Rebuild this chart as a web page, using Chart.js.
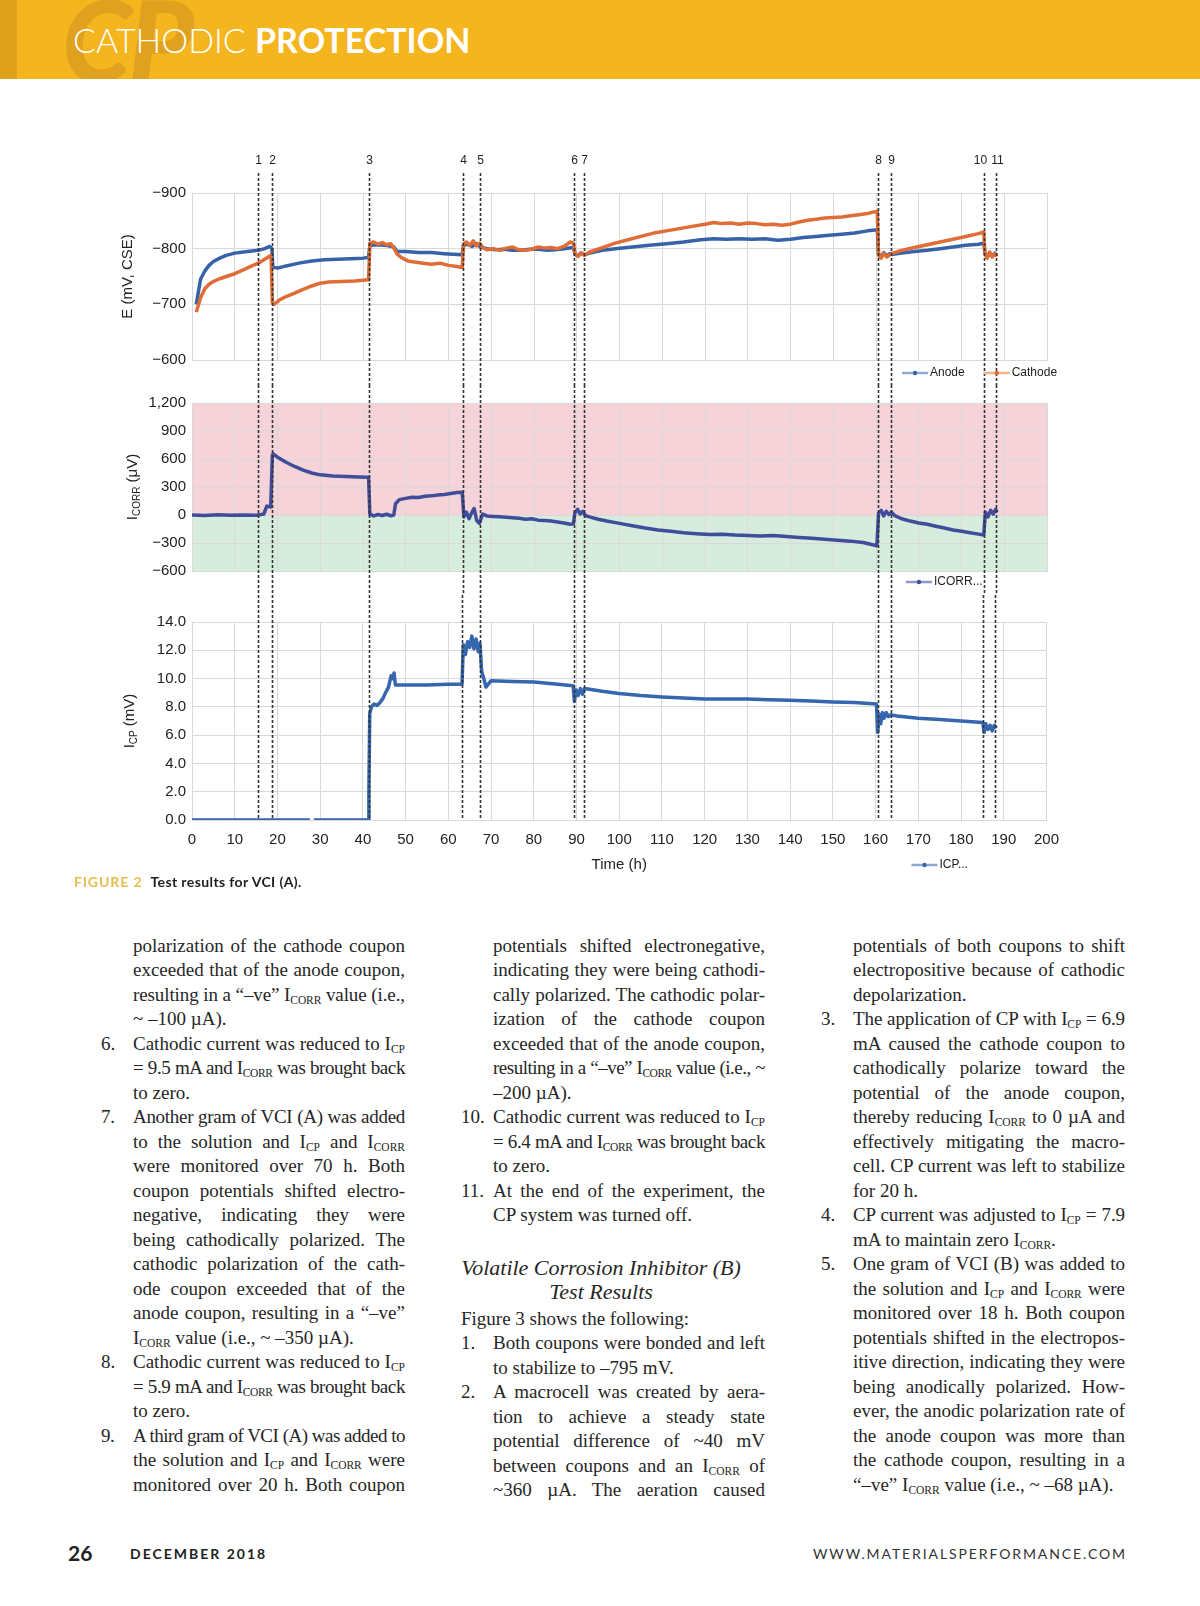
<!DOCTYPE html>
<html>
<head>
<meta charset="utf-8">
<title>Cathodic Protection - Figure 2</title>
<script src="https://cdn.jsdelivr.net/npm/chart.js@4.4.1/dist/chart.umd.min.js"></script>
<style>
  body{margin:0;background:#fff;}
  #page{position:relative;width:1200px;height:1606px;overflow:hidden;font-family:"Liberation Serif",serif;color:#262626;}
  #band{position:absolute;left:0;top:0;width:1200px;height:79px;background:#F5B51F;overflow:hidden;}
  #strip{position:absolute;left:0;top:0;width:17px;height:79px;background:#DEA11C;}
  #cp{position:absolute;left:62px;top:-17px;font:italic 900 112px/1 Lato,sans-serif;color:#E0A21E;letter-spacing:-3px;}
  #title{position:absolute;left:73px;top:20px;font:34px/40px Lato,sans-serif;color:#fff;white-space:nowrap;}
  #title .lt{font-weight:300}
  #title b{font-weight:700}
  .box{position:absolute;left:100px;width:970px;}
  #cap{position:absolute;left:74px;top:873px;font:bold 14px/18px Lato,sans-serif;color:#1e1e1e;white-space:nowrap;letter-spacing:.4px;}
  #cap span{color:#E6BB50;letter-spacing:.9px;margin-right:8px;}
  .col{position:absolute;width:272px;font-size:19px;line-height:24.5px;}
  .col div{position:relative;height:24.5px;text-align:justify;text-align-last:justify;}
  .col div.e{text-align-last:left;}
  .n{position:absolute;left:-32px;top:0;}
  .s{font-size:11.5px;line-height:1;position:relative;top:3px;}
  #head2{position:absolute;left:440px;width:322px;top:1256px;text-align:center;font:italic 22px/24px "Liberation Serif",serif;}
  #pg{position:absolute;left:68px;top:1540px;font:bold 21px/26px Lato,sans-serif;color:#222;}
  #date{position:absolute;left:130px;top:1545px;font:bold 14px/18px Lato,sans-serif;letter-spacing:2px;color:#222;}
  #url{position:absolute;right:73px;top:1545px;font:14px/18px Lato,sans-serif;letter-spacing:1.9px;color:#333;}
</style>
</head>
<body>
<div id="page">
  <div id="band">
    <div id="strip"></div>
    <div id="cp">CP</div>
    <div id="title"><span class="lt">CATHODIC </span><b>PROTECTION</b></div>
  </div>

  <div class="box" style="top:140px;height:245px;"><canvas id="cE"></canvas></div>
  <div class="box" style="top:385px;height:210px;"><canvas id="cI"></canvas></div>
  <div class="box" style="top:595px;height:285px;"><canvas id="cP"></canvas></div>

  <div id="cap"><span>FIGURE 2</span>Test results for VCI (A).</div>

  <div class="col" style="left:133px;top:933.75px;">
    <div>polarization of the cathode coupon</div>
    <div>exceeded that of the anode coupon,</div>
    <div>resulting in a “–ve” I<span class="s">CORR</span> value (i.e.,</div>
    <div class="e">~ –100 µA).</div>
    <div><span class="n">6.</span>Cathodic current was reduced to I<span class="s">CP</span></div>
    <div>= 9.5 mA and I<span class="s">CORR</span> was brought back</div>
    <div class="e">to zero.</div>
    <div><span class="n">7.</span>Another gram of VCI (A) was added</div>
    <div>to the solution and I<span class="s">CP</span> and I<span class="s">CORR</span></div>
    <div>were monitored over 70 h. Both</div>
    <div>coupon potentials shifted electro-</div>
    <div>negative, indicating they were</div>
    <div>being cathodically polarized. The</div>
    <div>cathodic polarization of the cath-</div>
    <div>ode coupon exceeded that of the</div>
    <div>anode coupon, resulting in a “–ve”</div>
    <div class="e">I<span class="s">CORR</span> value (i.e., ~ –350 µA).</div>
    <div><span class="n">8.</span>Cathodic current was reduced to I<span class="s">CP</span></div>
    <div>= 5.9 mA and I<span class="s">CORR</span> was brought back</div>
    <div class="e">to zero.</div>
    <div><span class="n">9.</span>A third gram of VCI (A) was added to</div>
    <div>the solution and I<span class="s">CP</span> and I<span class="s">CORR</span> were</div>
    <div>monitored over 20 h. Both coupon</div>
  </div>

  <div class="col" style="left:493px;top:933.75px;">
    <div>potentials shifted electronegative,</div>
    <div>indicating they were being cathodi-</div>
    <div>cally polarized. The cathodic polar-</div>
    <div>ization of the cathode coupon</div>
    <div>exceeded that of the anode coupon,</div>
    <div>resulting in a “–ve” I<span class="s">CORR</span> value (i.e., ~</div>
    <div class="e">–200 µA).</div>
    <div><span class="n">10.</span>Cathodic current was reduced to I<span class="s">CP</span></div>
    <div>= 6.4 mA and I<span class="s">CORR</span> was brought back</div>
    <div class="e">to zero.</div>
    <div><span class="n">11.</span>At the end of the experiment, the</div>
    <div class="e">CP system was turned off.</div>
  </div>
  <div id="head2">Volatile Corrosion Inhibitor (B)<br>Test Results</div>
  <div class="col" style="left:493px;top:1306.75px;">
    <div class="e"><span class="n" style="white-space:nowrap">Figure 3 shows the following:</span>&nbsp;</div>
    <div><span class="n">1.</span>Both coupons were bonded and left</div>
    <div class="e">to stabilize to –795 mV.</div>
    <div><span class="n">2.</span>A macrocell was created by aera-</div>
    <div>tion to achieve a steady state</div>
    <div>potential difference of ~40 mV</div>
    <div>between coupons and an I<span class="s">CORR</span> of</div>
    <div>~360 µA. The aeration caused</div>
  </div>

  <div class="col" style="left:853px;top:933.75px;">
    <div>potentials of both coupons to shift</div>
    <div>electropositive because of cathodic</div>
    <div class="e">depolarization.</div>
    <div><span class="n">3.</span>The application of CP with I<span class="s">CP</span> = 6.9</div>
    <div>mA caused the cathode coupon to</div>
    <div>cathodically polarize toward the</div>
    <div>potential of the anode coupon,</div>
    <div>thereby reducing I<span class="s">CORR</span> to 0 µA and</div>
    <div>effectively mitigating the macro-</div>
    <div>cell. CP current was left to stabilize</div>
    <div class="e">for 20 h.</div>
    <div><span class="n">4.</span>CP current was adjusted to I<span class="s">CP</span> = 7.9</div>
    <div class="e">mA to maintain zero I<span class="s">CORR</span>.</div>
    <div><span class="n">5.</span>One gram of VCI (B) was added to</div>
    <div>the solution and I<span class="s">CP</span> and I<span class="s">CORR</span> were</div>
    <div>monitored over 18 h. Both coupon</div>
    <div>potentials shifted in the electropos-</div>
    <div>itive direction, indicating they were</div>
    <div>being anodically polarized. How-</div>
    <div>ever, the anodic polarization rate of</div>
    <div>the anode coupon was more than</div>
    <div>the cathode coupon, resulting in a</div>
    <div class="e">“–ve” I<span class="s">CORR</span> value (i.e., ~ –68 µA).</div>
  </div>

  <div id="pg">26</div>
  <div id="date">DECEMBER 2018</div>
  <div id="url">WWW.MATERIALSPERFORMANCE.COM</div>
</div>

<script>
// event markers (h)
const eventTimes = [15.5, 18.7, 41.5, 63.3, 67.4, 89.3, 91.8, 160.5, 163.5, 185.2, 188.0];
const eventNames = ["1", "2", "3", "4", "5", "6", "7", "8", "9", "10", "11"];

// potentials, mV CSE
const anodeTime = [1, 2, 3, 4, 5, 6.5, 8, 10, 12, 14, 15.5, 17, 18.2, 18.7, 18.9, 20, 22, 25, 28, 31, 34, 37, 40, 41.3,
  41.6, 44, 46, 47.2, 48, 50, 53, 56, 59, 61, 63.2, 63.5, 64.5, 65.5, 66.5, 67.5, 69, 71, 73, 75, 77, 79, 81, 83, 85, 87,
  89.2, 89.6, 90.3, 91, 91.8, 93, 96, 99, 103, 107, 111, 115, 119, 122, 125, 128, 131, 134, 137, 140, 143, 146, 149, 152,
  155, 158, 160.3, 160.6, 161.2, 161.8, 162.5, 163.2, 164, 166, 169, 172, 175, 178, 181, 184, 185.2, 185.5, 186, 186.6,
  187.2, 187.8, 188.3];
const anodeE = [-700, -745, -760, -770, -777, -783, -788, -792, -794, -796, -797, -800, -804, -800, -767, -765, -769, -774,
  -778, -780, -781, -782, -783, -784, -806, -807, -805, -803, -795, -795, -793, -793, -791, -790, -789, -806, -808, -804,
  -809, -803, -800, -798, -799, -797, -797, -799, -799, -797, -798, -800, -802, -790, -787, -792, -789, -792, -797, -800,
  -803, -806, -809, -812, -816, -818, -817, -818, -817, -818, -815, -817, -820, -822, -824, -826, -828, -832, -834, -790,
  -785, -793, -787, -791, -790, -792, -795, -797, -800, -803, -806, -808, -810, -791, -785, -793, -786, -792, -788];

const cathodeTime = [1, 2, 3, 4, 5, 6.5, 8, 10, 12, 14, 15.5, 17, 18.5, 18.8, 19.2, 20.5, 22, 24, 26, 28, 30, 32, 35, 38,
  41.3, 41.6, 42.5, 43.5, 44.5, 45.5, 46.5, 47.2, 48, 49, 50.5, 52, 54, 56, 58, 60, 62, 63.2, 63.5, 64.2, 65, 65.8, 66.5,
  67.3, 68, 69, 70.5, 72, 73.5, 75, 76.5, 78, 79.5, 81, 82.5, 84, 85.5, 87, 88.5, 89.2, 89.6, 90.3, 91, 91.8, 93, 96, 99,
  102, 105, 108, 111, 114, 117, 120, 122, 124, 126, 128, 130, 132, 134, 136, 138, 140, 142, 144, 146, 148, 150, 152, 154,
  156, 158, 159.5, 160.3, 160.6, 161.2, 161.8, 162.5, 163.2, 164, 166, 169, 172, 175, 178, 181, 184, 185.2, 185.5, 186,
  186.6, 187.2, 187.8, 188.3];
const cathodeE = [-686, -712, -728, -736, -741, -746, -750, -755, -762, -769, -774, -781, -788, -703, -700, -708, -714,
  -720, -727, -733, -738, -740, -741, -742, -744, -810, -812, -808, -811, -807, -809, -801, -790, -784, -778, -776, -774,
  -772, -774, -770, -768, -766, -808, -812, -806, -814, -805, -810, -802, -798, -800, -797, -801, -803, -798, -797, -799,
  -803, -801, -802, -800, -804, -812, -810, -790, -786, -793, -788, -794, -802, -810, -816, -822, -828, -832, -836, -840,
  -844, -847, -845, -846, -844, -846, -845, -843, -844, -842, -844, -848, -851, -853, -855, -856, -857, -859, -861, -863,
  -866, -867, -788, -783, -792, -785, -789, -792, -797, -802, -807, -812, -817, -822, -827, -830, -790, -783, -794, -785,
  -791, -786];

// macrocell current
const icorrTime = [0, 3, 6, 9, 12, 15, 16.2, 16.8, 17.5, 18.4, 18.8, 19, 20, 22, 24, 26, 28, 30, 33, 36, 39, 41.3, 41.6,
  42.5, 43.5, 44.5, 45.5, 46.5, 47.2, 47.6, 48.5, 50, 51.5, 53, 54.5, 56, 57.5, 59, 60.5, 62, 63.2, 63.6, 64.2, 64.8, 65.4,
  66, 66.6, 67.2, 68, 69, 70.5, 72, 73.5, 75, 76.5, 78, 79.5, 81, 82.5, 84, 85.5, 87, 88.5, 89.2, 89.6, 90.2, 90.8, 91.4,
  92, 93, 95, 97, 100, 103, 106, 109, 112, 115, 118, 121, 124, 127, 130, 133, 136, 139, 142, 145, 148, 151, 154, 157,
  160.2, 160.6, 161.2, 161.8, 162.4, 163, 163.6, 164.5, 166, 168, 170, 172, 174, 176, 178, 180, 182, 184, 185.2, 185.6,
  186.2, 186.8, 187.4, 188, 188.3];
const icorrVal = [0, -5, 2, -3, 0, -2, 5, 10, 95, 85, 640, 655, 620, 565, 520, 480, 450, 430, 418, 412, 408, 405, 10, -10,
  5, -5, 8, -8, 0, 120, 165, 178, 190, 188, 200, 205, 215, 220, 230, 240, 245, -20, 30, -40, 20, 70, -60, -90, 10, -10,
  -15, -20, -25, -30, -35, -45, -40, -55, -60, -65, -75, -85, -100, -95, 30, 60, 10, 40, -5, -20, -45, -65, -90, -115,
  -140, -160, -175, -190, -200, -210, -205, -215, -220, -225, -220, -230, -240, -250, -260, -270, -280, -295, -330, 20, 50,
  -10, 40, 5, 30, -10, -40, -65, -85, -100, -120, -140, -160, -175, -190, -205, -215, 30, -20, 50, 10, 60, 30];
const bandFrom = [0, -600];
const bandTo = [1200, 0];

// CP current
const icpTime = [0, 10, 20, 27.6, 28, 28.5, 35, 41.2, 41.4, 41.6, 42, 42.6, 43.3, 44, 44.7, 45.3, 46, 46.6, 47, 47.3,
  47.6, 50, 55, 60, 63.2, 63.5, 64, 64.5, 65, 65.5, 66, 66.5, 67, 67.4, 67.8, 68.3, 68.8, 70, 75, 80, 85, 89.2, 89.5,
  89.9, 90.4, 90.9, 91.4, 91.9, 93, 96, 100, 105, 110, 115, 120, 125, 130, 135, 140, 145, 150, 155, 160.2, 160.5, 160.8,
  161.2, 161.6, 162, 162.5, 163, 163.5, 165, 170, 175, 180, 185.1, 185.4, 185.8, 186.3, 186.8, 187.3, 187.8, 188.3];
const icpVal = [0, 0, 0, 0, null, 0, 0, 0, 2.0, 7.5, 8.0, 8.2, 8.1, 8.3, 8.6, 9.0, 9.4, 10.2, 10.0, 10.4, 9.55, 9.55, 9.55,
  9.6, 9.6, 12.4, 11.7, 12.6, 12.2, 13.0, 12.1, 12.8, 11.9, 12.5, 10.5, 10.0, 9.4, 9.85, 9.8, 9.75, 9.62, 9.5, 8.4, 9.2,
  8.8, 9.3, 8.9, 9.3, 9.25, 9.1, 8.95, 8.8, 8.7, 8.62, 8.55, 8.55, 8.55, 8.5, 8.47, 8.42, 8.35, 8.3, 8.2, 6.2, 7.5, 6.8,
  7.6, 7.2, 7.6, 7.3, 7.45, 7.35, 7.2, 7.1, 7.0, 6.9, 6.2, 6.8, 6.4, 6.7, 6.3, 6.7, 6.5];

const chartFont = '"Liberation Sans", Arial, sans-serif';
Chart.defaults.font.family = chartFont;
Chart.defaults.color = "#222";
Chart.defaults.animation = false;

const gridColor = "#D9D9D9";

function pts(ts, vs){
    return ts.map(function(t, i){ return {x: t, y: vs[i]}; });
}

const eventLines = {
    id: "eventLines",
    afterDatasetsDraw(chart, args, opts){
        const ctx = chart.ctx;
        const x = chart.scales.x;
        const y0 = opts.top || 0;
        const y1 = opts.toArea ? chart.chartArea.bottom : chart.height;
        ctx.save();
        ctx.strokeStyle = "#333";
        ctx.lineWidth = 1.6;
        ctx.setLineDash([3, 2]);
        ctx.font = "12px " + chartFont;
        ctx.textAlign = "center";
        ctx.textBaseline = "middle";
        ctx.fillStyle = "#222";
        for(let i in eventTimes){
            const px = Math.round(x.getPixelForValue(eventTimes[i])) + 0.5;
            ctx.beginPath();
            ctx.moveTo(px, y0);
            ctx.lineTo(px, y1);
            ctx.stroke();
            if(opts.labels){
                const shift = (opts.shift && opts.shift[i]) || 0;
                ctx.fillText(eventNames[i], px + shift, opts.labelY);
            }
        }
        ctx.restore();
    }
};

const bands = {
    id: "bands",
    beforeDraw(chart, args, opts){
        if(!opts.colors) return;
        const ctx = chart.ctx;
        const area = chart.chartArea;
        const y = chart.scales.y;
        ctx.save();
        for(let i in bandFrom){
            const a = y.getPixelForValue(bandFrom[i]);
            const b = y.getPixelForValue(bandTo[i]);
            ctx.fillStyle = opts.colors[i];
            ctx.fillRect(area.left, Math.min(a, b), area.right - area.left, Math.abs(b - a));
        }
        ctx.restore();
    }
};

const yTitle = {
    id: "yTitle",
    afterDraw(chart, args, opts){
        const ctx = chart.ctx;
        const area = chart.chartArea;
        ctx.save();
        ctx.translate(area.left - opts.dx, (area.top + area.bottom) / 2);
        ctx.rotate(-Math.PI / 2);
        ctx.textBaseline = "middle";
        ctx.fillStyle = "#222";
        let w = 0;
        opts.parts.forEach(function(p){
            ctx.font = (p.sub ? "10px " : "15px ") + chartFont;
            w += ctx.measureText(p.text).width;
        });
        let xx = -w / 2;
        opts.parts.forEach(function(p){
            ctx.font = (p.sub ? "10px " : "15px ") + chartFont;
            ctx.fillText(p.text, xx, p.sub ? 4 : 0);
            xx += ctx.measureText(p.text).width;
        });
        ctx.restore();
    }
};

const sideLegend = {
    id: "sideLegend",
    afterDraw(chart, args, opts){
        const ctx = chart.ctx;
        const area = chart.chartArea;
        let x = area.right - opts.dx;
        const y = area.bottom + opts.dy;
        ctx.save();
        ctx.font = "12px " + chartFont;
        ctx.textBaseline = "middle";
        chart.data.datasets.forEach(function(ds){
            ctx.strokeStyle = ds.legendColor;
            ctx.lineWidth = 2.5;
            ctx.beginPath();
            ctx.moveTo(x, y);
            ctx.lineTo(x + 26, y);
            ctx.stroke();
            ctx.fillStyle = ds.borderColor;
            ctx.beginPath();
            ctx.arc(x + 13, y, 2.2, 0, 2 * Math.PI);
            ctx.fill();
            ctx.fillStyle = "#222";
            ctx.fillText(ds.label, x + 28, y);
            x += 28 + ctx.measureText(ds.label).width + (opts.gap || 0);
        });
        ctx.restore();
    }
};

function lineSet(label, data, color, legendColor, order){
    return {
        label: label,
        data: data,
        borderColor: color,
        legendColor: legendColor,
        borderWidth: 3.5,
        pointRadius: 0,
        tension: 0,
        borderJoinStyle: "round",
        order: order
    };
}

function xAxis(showTicks){
    const axis = {
        type: "linear",
        min: 0,
        max: 200,
        grid: {color: gridColor, drawTicks: false},
        border: {color: gridColor},
        ticks: {display: showTicks, stepSize: 10, autoSkip: false, maxRotation: 0, padding: 11, font: {size: 15}}
    };
    if(!showTicks){
        axis.afterFit = function(s){ s.height = 0; };
    } else {
        axis.title = {display: true, text: "Time (h)", font: {size: 15}, padding: {top: 0, bottom: 1}};
        axis.afterFit = function(s){ s.height = 55; };
    }
    return axis;
}

function yAxis(extra){
    return Object.assign({
        type: "linear",
        grid: {color: gridColor, drawTicks: false},
        border: {color: gridColor},
        afterFit: function(s){ s.width = 92; }
    }, extra);
}

function minus(v){
    return v < 0 ? "\u2212" + Math.abs(v).toLocaleString("en-US") : v.toLocaleString("en-US");
}

// potentials
new Chart(document.getElementById("cE"), {
    type: "line",
    data: {
        datasets: [
            lineSet("Anode", pts(anodeTime, anodeE), "#3662A9", "#8FA8D4", 1),
            lineSet("Cathode", pts(cathodeTime, cathodeE), "#E06C36", "#F2B48C", 0)
        ]
    },
    options: {
        responsive: true,
        maintainAspectRatio: false,
        layout: {padding: {top: 53, bottom: 25, left: 0, right: 23}},
        plugins: {
            legend: {display: false},
            tooltip: {enabled: false},
            eventLines: {top: 33, labels: true, labelY: 21, shift: {9: -4, 10: 1}},
            yTitle: {dx: 64, parts: [{text: "E (mV, CSE)"}]},
            sideLegend: {dx: 145, dy: 13, gap: 19}
        },
        scales: {
            x: xAxis(false),
            y: yAxis({min: -900, max: -600, reverse: true,
                ticks: {stepSize: 100, padding: 6, font: {size: 15}, callback: minus}})
        }
    },
    plugins: [eventLines, yTitle, sideLegend]
});

// macrocell current
new Chart(document.getElementById("cI"), {
    type: "line",
    data: {
        datasets: [lineSet("ICORR...", pts(icorrTime, icorrVal), "#3F4D9B", "#8D97C8", 0)]
    },
    options: {
        responsive: true,
        maintainAspectRatio: false,
        layout: {padding: {top: 18, bottom: 24, left: 0, right: 23}},
        plugins: {
            legend: {display: false},
            tooltip: {enabled: false},
            bands: {colors: ["#F6D3D8", "#D6ECDD"]},
            eventLines: {top: 0},
            yTitle: {dx: 59, parts: [{text: "I"}, {text: "CORR", sub: true}, {text: " (\u03BCV)"}]},
            sideLegend: {dx: 141, dy: 11}
        },
        scales: {
            x: xAxis(false),
            y: yAxis({min: -600, max: 1200,
                ticks: {stepSize: 300, padding: 6, font: {size: 15}, callback: minus}})
        }
    },
    plugins: [bands, eventLines, yTitle, sideLegend]
});

// CP current
new Chart(document.getElementById("cP"), {
    type: "line",
    data: {
        datasets: [lineSet("ICP...", pts(icpTime, icpVal), "#3566AE", "#8FA9D6", 0)]
    },
    options: {
        responsive: true,
        maintainAspectRatio: false,
        layout: {padding: {top: 27, bottom: 5, left: 0, right: 23}},
        plugins: {
            legend: {display: false},
            tooltip: {enabled: false},
            eventLines: {top: 0, toArea: true},
            yTitle: {dx: 62, parts: [{text: "I"}, {text: "CP", sub: true}, {text: " (mV)"}]},
            sideLegend: {dx: 135, dy: 45}
        },
        scales: {
            x: xAxis(true),
            y: yAxis({min: 0, max: 14,
                ticks: {stepSize: 2, padding: 6, font: {size: 15}, callback: function(v){ return v.toFixed(1); }}})
        }
    },
    plugins: [eventLines, yTitle, sideLegend]
});

// squeeze any text line that would wrap
document.querySelectorAll(".col div").forEach(function(el){
    el.style.height = "auto";
    let ls = 0;
    while(el.offsetHeight > 30 && ls > -2){
        ls -= 0.1;
        el.style.letterSpacing = ls.toFixed(2) + "px";
    }
    el.style.height = "24.5px";
});
</script>
</body>
</html>
